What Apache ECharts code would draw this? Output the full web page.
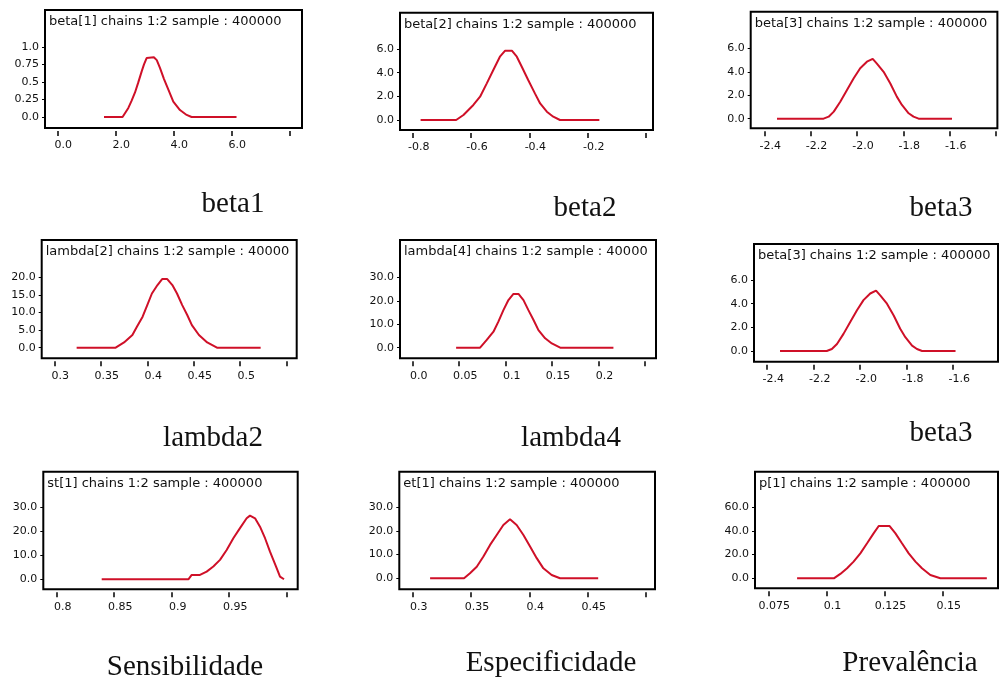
<!DOCTYPE html>
<html><head><meta charset="utf-8">
<script src="https://cdn.jsdelivr.net/npm/echarts@6/dist/echarts.min.js"></script>
<style>html,body{margin:0;padding:0;background:#fff}#c{width:999px;height:682px}</style>
</head><body><div id="c"></div><script>
// ---------- DATA ----------
const beta1X = [1.61, 2.25, 2.45, 2.56, 2.68, 2.79, 2.91, 2.99, 3.08, 3.33, 3.43, 3.54, 3.68, 3.83, 4.0, 4.23, 4.46, 4.63, 6.18];
const beta1Y = [0, 0, 0.13, 0.23, 0.35, 0.49, 0.65, 0.75, 0.84, 0.85, 0.81, 0.70, 0.54, 0.39, 0.22, 0.10, 0.03, 0, 0];

const beta2X = [-0.773, -0.651, -0.626, -0.592, -0.569, -0.546, -0.524, -0.501, -0.483, -0.46, -0.443, -0.426, -0.404, -0.381, -0.363, -0.34, -0.318, -0.295, -0.16];
const beta2Y = [0, 0, 0.42, 1.27, 1.97, 3.1, 4.2, 5.35, 5.86, 5.86, 5.35, 4.5, 3.38, 2.25, 1.4, 0.7, 0.28, 0, 0];

const beta3X = [-2.345, -2.144, -2.122, -2.100, -2.072, -2.043, -2.014, -1.986, -1.957, -1.932, -1.914, -1.885, -1.856, -1.828, -1.806, -1.777, -1.756, -1.734, -1.59];
const beta3Y = [0, 0, 0.17, 0.6, 1.45, 2.45, 3.44, 4.3, 4.86, 5.1, 4.7, 4.0, 3.0, 1.88, 1.17, 0.46, 0.17, 0, 0];

const lambda2X = [0.324, 0.366, 0.375, 0.384, 0.389, 0.395, 0.400, 0.405, 0.411, 0.416, 0.4215, 0.427, 0.432, 0.4376, 0.443, 0.448, 0.4556, 0.4645, 0.475, 0.522];
const lambda2Y = [0, 0, 1.5, 3.6, 6.0, 8.8, 12.1, 15.4, 17.8, 19.5, 19.5, 17.8, 15.4, 12.1, 9.3, 6.4, 3.6, 1.5, 0, 0];

const lambda4X = [0.0467, 0.0725, 0.0797, 0.0869, 0.0922, 0.0976, 0.103, 0.1084, 0.1138, 0.1192, 0.1245, 0.13, 0.1353, 0.1425, 0.1497, 0.1587, 0.216];
const lambda4Y = [0, 0, 3.3, 6.8, 11.1, 16.0, 20.3, 22.9, 22.9, 20.3, 16.0, 11.8, 7.5, 4.0, 1.8, 0, 0];

const sensX = [0.8391, 0.9145, 0.9174, 0.9246, 0.9304, 0.9362, 0.942, 0.9478, 0.9536, 0.9594, 0.9652, 0.9681, 0.9725, 0.9768, 0.9812, 0.9855, 0.9884, 0.9913, 0.9942, 0.9977];
const sensY = [0, 0, 1.8, 1.8, 3.2, 5.3, 8.1, 12.2, 17.1, 21.3, 25.4, 26.5, 25.4, 21.9, 17.1, 11.5, 8.1, 4.6, 1.1, 0];

const espX = [0.3149, 0.344, 0.3491, 0.3549, 0.3606, 0.3663, 0.372, 0.3777, 0.3834, 0.3891, 0.3949, 0.4006, 0.4063, 0.412, 0.4191, 0.4263, 0.459];
const espY = [0, 0, 2.1, 4.9, 9.2, 14.1, 18.3, 22.5, 24.9, 22.5, 18.3, 13.4, 8.5, 4.2, 1.4, 0, 0];

const prevX = [0.0874, 0.1032, 0.106, 0.1089, 0.1117, 0.1146, 0.1175, 0.1203, 0.1225, 0.1272, 0.1297, 0.1325, 0.1354, 0.1383, 0.1411, 0.1447, 0.149, 0.169];
const prevY = [0, 0, 3.7, 8.5, 14.1, 21.1, 29.6, 38.0, 44.2, 44.2, 38.0, 29.6, 21.1, 14.1, 8.5, 2.8, 0, 0];

// tick values and labels
const beta1XTicks = [0, 2, 4, 6, 8];           const beta1XLabels = ['0.0', '2.0', '4.0', '6.0', ''];
const beta1YTicks = [0, 0.25, 0.5, 0.75, 1.0]; const beta1YLabels = ['0.0', '0.25', '0.5', '0.75', '1.0'];
const beta2XTicks = [-0.8, -0.6, -0.4, -0.2, 0]; const beta2XLabels = ['-0.8', '-0.6', '-0.4', '-0.2', ''];
const beta2YTicks = [0, 2, 4, 6];              const beta2YLabels = ['0.0', '2.0', '4.0', '6.0'];
const beta3XTicks = [-2.4, -2.2, -2.0, -1.8, -1.6, -1.4]; const beta3XLabels = ['-2.4', '-2.2', '-2.0', '-1.8', '-1.6', ''];
const beta3YTicks = [0, 2, 4, 6];              const beta3YLabels = ['0.0', '2.0', '4.0', '6.0'];
const lambda2XTicks = [0.3, 0.35, 0.4, 0.45, 0.5, 0.55]; const lambda2XLabels = ['0.3', '0.35', '0.4', '0.45', '0.5', ''];
const lambda2YTicks = [0, 5, 10, 15, 20];      const lambda2YLabels = ['0.0', '5.0', '10.0', '15.0', '20.0'];
const lambda4XTicks = [0, 0.05, 0.1, 0.15, 0.2, 0.25]; const lambda4XLabels = ['0.0', '0.05', '0.1', '0.15', '0.2', ''];
const lambda4YTicks = [0, 10, 20, 30];         const lambda4YLabels = ['0.0', '10.0', '20.0', '30.0'];
const sensXTicks = [0.8, 0.85, 0.9, 0.95, 1.0]; const sensXLabels = ['0.8', '0.85', '0.9', '0.95', ''];
const sensYTicks = [0, 10, 20, 30];            const sensYLabels = ['0.0', '10.0', '20.0', '30.0'];
const espXTicks = [0.3, 0.35, 0.4, 0.45, 0.5]; const espXLabels = ['0.3', '0.35', '0.4', '0.45', ''];
const espYTicks = [0, 10, 20, 30];             const espYLabels = ['0.0', '10.0', '20.0', '30.0'];
const prevXTicks = [0.075, 0.1, 0.125, 0.15, 0.175]; const prevXLabels = ['0.075', '0.1', '0.125', '0.15', ''];
const prevYTicks = [0, 20, 40, 60];            const prevYLabels = ['0.0', '20.0', '40.0', '60.0'];

const plotTitles = [
  'beta[1] chains 1:2 sample : 400000', 'beta[2] chains 1:2 sample : 400000', 'beta[3] chains 1:2 sample : 400000',
  'lambda[2] chains 1:2 sample : 400000', 'lambda[4] chains 1:2 sample : 400000', 'beta[3] chains 1:2 sample : 400000',
  'st[1] chains 1:2 sample : 400000', 'et[1] chains 1:2 sample : 400000', 'p[1] chains 1:2 sample : 400000'
];
const captions = ['beta1', 'beta2', 'beta3', 'lambda2', 'lambda4', 'beta3', 'Sensibilidade', 'Especificidade', 'Prevalência'];

// ---------- LAYOUT (pixels / axis extents) ----------
const panels = [
  {x: beta1X, y: beta1Y, xt: beta1XTicks, xl: beta1XLabels, yt: beta1YTicks, yl: beta1YLabels,
   box: [45, 10, 257, 118], xr: [-0.424, 8.438], yr: [-0.156, 1.524], cap: [233, 213]},
  {x: beta2X, y: beta2Y, xt: beta2XTicks, xl: beta2XLabels, yt: beta2YTicks, yl: beta2YLabels,
   box: [400, 12.7, 253, 117.3], xr: [-0.8436, 0.024], yr: [-0.845, 9.07], cap: [585, 217]},
  {x: beta3X, y: beta3Y, xt: beta3XTicks, xl: beta3XLabels, yt: beta3YTicks, yl: beta3YLabels,
   box: [750.7, 11.7, 247.3, 116.6], xr: [-2.4585, -1.394], yr: [-0.82, 9.12], cap: [941, 217]},
  {x: lambda2X, y: lambda2Y, xt: lambda2XTicks, xl: lambda2XLabels, yt: lambda2YTicks, yl: lambda2YLabels,
   box: [41.7, 240, 255, 118.3], xr: [0.2864, 0.5608], yr: [-3.01, 30.6], cap: [213, 447]},
  {x: lambda4X, y: lambda4Y, xt: lambda4XTicks, xl: lambda4XLabels, yt: lambda4YTicks, yl: lambda4YLabels,
   box: [400, 240, 256, 118.3], xr: [-0.01367, 0.2618], yr: [-4.52, 45.9], cap: [571, 447]},
  {x: beta3X, y: beta3Y, xt: beta3XTicks, xl: beta3XLabels, yt: beta3YTicks, yl: beta3YLabels,
   box: [754, 244, 244, 117.7], xr: [-2.457, -1.4073], yr: [-0.9, 9.04], cap: [941, 442]},
  {x: sensX, y: sensY, xt: sensXTicks, xl: sensXLabels, yt: sensYTicks, yl: sensYLabels,
   box: [43.3, 471.7, 254.4, 117.6], xr: [0.7883, 1.0096], yr: [-4.17, 44.8], cap: [185, 676]},
  {x: espX, y: espY, xt: espXTicks, xl: espXLabels, yt: espYTicks, yl: espYLabels,
   box: [399.3, 471.7, 255.7, 117.6], xr: [0.2885, 0.5077], yr: [-4.65, 45.0], cap: [551, 672]},
  {x: prevX, y: prevY, xt: prevXTicks, xl: prevXLabels, yt: prevYTicks, yl: prevYLabels,
   box: [755, 471.7, 243, 116.6], xr: [0.0693, 0.1738], yr: [-8.45, 90.1], cap: [910, 672]}
];

const RED = '#cf1028';
const TICKFONT = 'DejaVu Sans';
function lookup(ticks, labels) {
  const span = Math.abs(ticks[ticks.length - 1] - ticks[0]) || 1;
  return function (v) {
    for (let i = 0; i < ticks.length; i++) if (Math.abs(ticks[i] - v) < span * 1e-6) return labels[i];
    return '';
  };
}

const grid = [], xAxis = [], yAxis = [], series = [], graphic = [];
panels.forEach((p, i) => {
  grid.push({left: p.box[0], top: p.box[1], width: p.box[2], height: p.box[3],
    show: true, borderColor: '#000', borderWidth: 2, backgroundColor: '#fff', containLabel: false});
  xAxis.push({type: 'value', gridIndex: i, min: p.xr[0], max: p.xr[1], position: 'bottom', offset: 3,
    splitLine: {show: false}, axisLine: {show: false, onZero: false},
    axisTick: {show: true, customValues: p.xt, length: 5, lineStyle: {color: '#000', width: 1.5}},
    axisLabel: {customValues: p.xt, formatter: lookup(p.xt, p.xl), margin: 9, fontSize: 11,
      fontFamily: TICKFONT, color: '#111', padding: [0, 0, 0, 12], hideOverlap: false}});
  yAxis.push({type: 'value', gridIndex: i, min: p.yr[0], max: p.yr[1], position: 'left',
    splitLine: {show: false}, axisLine: {show: false, onZero: false},
    axisTick: {show: true, customValues: p.yt, length: 3, lineStyle: {color: '#000', width: 1}},
    axisLabel: {customValues: p.yt, formatter: lookup(p.yt, p.yl), margin: 6, fontSize: 11,
      fontFamily: TICKFONT, color: '#111', hideOverlap: false}});
  series.push({type: 'line', xAxisIndex: i, yAxisIndex: i, showSymbol: false, animation: false,
    lineStyle: {color: RED, width: 2}, data: p.x.map((v, k) => [v, p.y[k]])});
  graphic.push({type: 'text', left: p.box[0] + 4, top: p.box[1] + 5, z: 100,
    style: {text: plotTitles[i], fontSize: 13, fontFamily: TICKFONT, fill: '#111',
      width: p.box[2] - 7, overflow: 'truncate', ellipsis: ''}});
  graphic.push({type: 'text', x: p.cap[0], y: p.cap[1] - 9, z: 100,
    style: {text: captions[i], fontSize: 29, fontFamily: 'Liberation Serif', fill: '#111',
      align: 'center', verticalAlign: 'middle'}});
});

const chart = echarts.init(document.getElementById('c'), null, {renderer: 'canvas'});
chart.setOption({animation: false, backgroundColor: '#fff', grid, xAxis, yAxis, series, graphic});
</script></body></html>
